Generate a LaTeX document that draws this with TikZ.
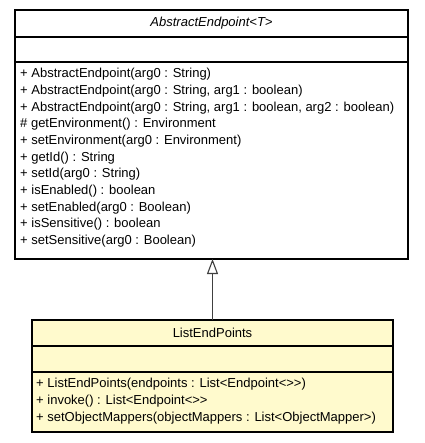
\documentclass[tikz,border=0pt]{standalone}
\usepackage{fontspec}
\setmainfont{Liberation Sans}
\usetikzlibrary{arrows.meta}
\definecolor{classfill}{HTML}{FFFACD}
\definecolor{edgecol}{HTML}{404040}
\begin{document}
\begin{tikzpicture}[x=1pt,y=-1pt,
  comp/.style={draw=black, line width=1.1pt, inner sep=0pt, outer sep=0pt, anchor=north west},
  txt/.style={font=\fontsize{13}{15}\selectfont, inner sep=0pt, anchor=mid west},
  ttl/.style={font=\fontsize{13}{15}\selectfont, inner sep=0pt},
  gen/.style={draw=edgecol, line width=1.3pt, -{Triangle[open, length=15pt, width=11pt, line width=1.1pt]}}]
\useasboundingbox (0,0) rectangle (424,443);
% AbstractEndpoint<T>
\node[comp, fill=white, minimum width=393pt, minimum height=27pt] (absname) at (15,10) {};
\node[comp, fill=white, minimum width=393pt, minimum height=25pt] (absattr) at (15,37) {};
\node[comp, fill=white, minimum width=393pt, minimum height=197pt] (absops) at (15,62) {};
\node[ttl, font=\fontsize{13}{15}\selectfont\itshape] (absttl) at (absname.center) {AbstractEndpoint<T>};
\node[txt] (a1) at (20,75) {+ AbstractEndpoint(arg0 : String)};
\node[txt] (a2) at (20,91.7) {+ AbstractEndpoint(arg0 : String, arg1 : boolean)};
\node[txt] (a3) at (20,108.4) {+ AbstractEndpoint(arg0 : String, arg1 : boolean, arg2 : boolean)};
\node[txt] (a4) at (20,125.1) {\# getEnvironment() : Environment};
\node[txt] (a5) at (20,141.8) {+ setEnvironment(arg0 : Environment)};
\node[txt] (a6) at (20,158.5) {+ getId() : String};
\node[txt] (a7) at (20,175.2) {+ setId(arg0 : String)};
\node[txt] (a8) at (20,191.9) {+ isEnabled() : boolean};
\node[txt] (a9) at (20,208.6) {+ setEnabled(arg0 : Boolean)};
\node[txt] (a10) at (20,225.3) {+ isSensitive() : boolean};
\node[txt] (a11) at (20,242) {+ setSensitive(arg0 : Boolean)};
% ListEndPoints
\node[comp, fill=classfill, minimum width=361pt, minimum height=26pt] (lepname) at (32,320) {};
\node[comp, fill=classfill, minimum width=361pt, minimum height=26pt] (lepattr) at (32,346) {};
\node[comp, fill=classfill, minimum width=361pt, minimum height=60pt] (lepops) at (32,372) {};
\node[ttl] (lepttl) at (lepname.center) {ListEndPoints};
\node[txt] (b1) at (36,385) {+ ListEndPoints(endpoints : List<Endpoint<>\kern0pt>)};
\node[txt] (b2) at (36,401.7) {+ invoke() : List<Endpoint<>\kern0pt>};
\node[txt] (b3) at (36,418.4) {+ setObjectMappers(objectMappers : List<ObjectMapper>)};
% generalization
\draw[gen] (lepname.north) -- (lepname.north |- absops.south);
\end{tikzpicture}
\end{document}
